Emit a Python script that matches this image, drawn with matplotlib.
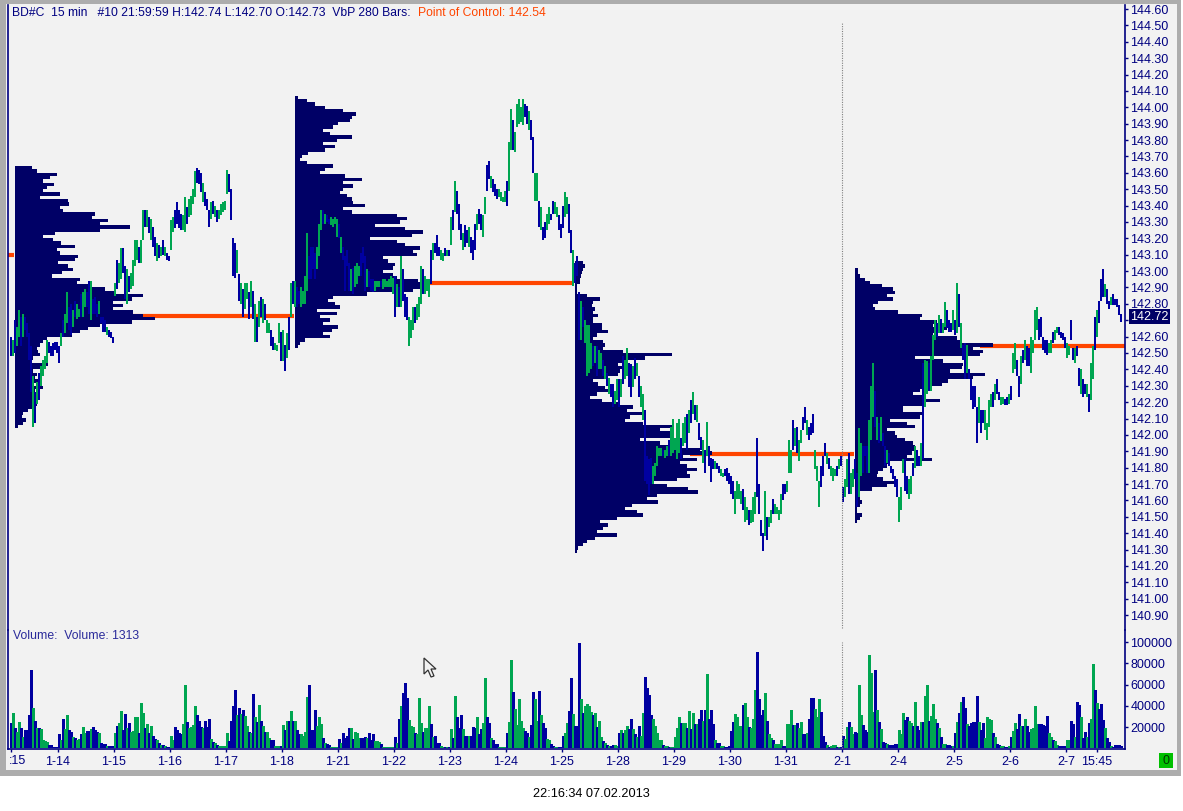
#!/usr/bin/env python3
# BD#C 15 min chart with four volume profile blocks and a volume pane
import numpy as np
import matplotlib
matplotlib.use('Agg')
import matplotlib.pyplot as plt
from matplotlib.patches import Rectangle, Polygon

W, H = 1183, 811

# sessions: 1-11 (part), 1-14 ... 2-7, one bar per 15 min
high_d0 = [142.60,142.58,142.70,142.66,142.76,142.72,142.74,142.72,142.68,142.62,142.54,142.36,142.26,142.32,142.38,142.42,142.46,142.48,142.58,142.57,142.54,142.56,142.57,142.57]
low_d0 = [142.48,142.48,142.50,142.54,142.60,142.54,142.60,142.64,142.60,142.46,142.26,142.05,142.07,142.19,142.21,142.30,142.36,142.40,142.44,142.50,142.48,142.48,142.52,142.50]
high_0114 = [142.54,142.62,142.70,142.74,142.87,142.78,142.80,142.76,142.82,142.80,142.77,142.86,142.87,142.89,142.87,142.94,142.94,142.83,142.84,142.80,142.82,142.72,142.72,142.70,142.66,142.64,142.63,142.60]
low_0114 = [142.44,142.54,142.60,142.62,142.68,142.64,142.61,142.66,142.72,142.71,142.72,142.72,142.72,142.78,142.78,142.74,142.70,142.74,142.74,142.72,142.74,142.68,142.63,142.63,142.61,142.60,142.59,142.56]
high_0115 = [142.93,143.07,143.05,143.14,143.14,143.03,143.01,142.97,142.99,143.07,143.19,143.19,143.15,143.19,143.37,143.37,143.37,143.33,143.32,143.27,143.21,143.17,143.16,143.15,143.19,143.15,143.11,143.09]
low_0115 = [142.85,142.89,142.93,142.95,142.99,142.83,142.80,142.87,142.89,142.91,143.03,143.07,143.05,143.05,143.19,143.27,143.27,143.23,143.19,143.15,143.09,143.06,143.08,143.09,143.10,143.09,143.07,143.06]
high_0116 = [143.31,143.33,143.37,143.42,143.37,143.35,143.34,143.45,143.39,143.44,143.46,143.50,143.61,143.63,143.62,143.60,143.54,143.48,143.44,143.37,143.42,143.43,143.40,143.37,143.37,143.41,143.42,143.43]
low_0116 = [143.13,143.24,143.26,143.29,143.26,143.25,143.25,143.24,143.29,143.33,143.34,143.41,143.45,143.54,143.53,143.48,143.42,143.40,143.37,143.27,143.32,143.35,143.33,143.30,143.32,143.34,143.36,143.37]
high_0117 = [143.62,143.59,143.50,143.20,143.17,143.13,142.98,142.93,142.89,142.93,142.93,142.87,142.94,142.88,142.80,142.72,142.82,142.84,142.83,142.80,142.70,142.68,142.64,142.60,142.56,142.55,142.68,142.63]
low_0117 = [143.47,143.48,143.31,142.97,142.96,142.99,142.82,142.80,142.72,142.77,142.83,142.71,142.78,142.71,142.57,142.57,142.66,142.72,142.68,142.70,142.62,142.62,142.54,142.52,142.52,142.51,142.56,142.45]
high_0118 = [142.64,142.55,142.62,142.72,142.93,142.94,142.94,142.90,142.88,142.90,142.88,142.97,143.23,143.09,143.15,143.15,143.11,143.15,143.29,143.37,143.37,143.35,143.34,143.32,143.33,143.32,143.33,143.32]
low_0118 = [142.45,142.39,142.47,142.52,142.72,142.80,142.78,142.78,142.80,142.78,142.80,142.80,142.88,142.95,142.95,143.01,142.95,143.01,143.09,143.25,143.29,143.29,143.30,143.29,143.28,143.27,143.29,143.21]
high_0121 = [143.29,143.21,143.15,143.09,143.13,143.05,143.01,143.02,143.03,143.05,143.03,143.11,143.15,143.09,143.01,143.00,142.95,142.95,142.94,142.94,142.94,142.94,142.95,142.95,142.94,142.95,142.97,142.96]
low_0121 = [143.20,143.11,143.07,142.88,143.03,142.88,142.88,142.86,142.90,142.92,142.97,142.97,143.05,142.88,142.90,142.90,142.88,142.87,142.88,142.90,142.90,142.90,142.89,142.90,142.90,142.90,142.90,142.86]
high_0122 = [142.97,142.92,142.90,143.09,143.01,142.86,142.84,142.72,142.70,142.78,142.78,142.80,142.84,143.03,143.01,142.97,142.95,142.95,143.13,143.17,143.17,143.22,143.15,143.13,143.11,143.14,143.13,143.13]
low_0122 = [142.72,142.78,142.78,142.78,142.82,142.72,142.70,142.54,142.59,142.64,142.68,142.70,142.72,142.80,142.86,142.86,142.88,142.84,142.92,143.07,143.11,143.09,143.09,143.07,143.06,143.09,143.09,143.09]
high_0123 = [143.33,143.37,143.55,143.49,143.41,143.29,143.23,143.28,143.25,143.27,143.21,143.19,143.29,143.35,143.38,143.35,143.34,143.45,143.65,143.67,143.58,143.56,143.53,143.50,143.50,143.48,143.45,143.49]
low_0123 = [143.16,143.25,143.36,143.35,143.25,143.19,143.13,143.15,143.17,143.15,143.11,143.07,143.13,143.25,143.29,143.25,143.21,143.35,143.49,143.56,143.51,143.48,143.46,143.44,143.45,143.43,143.42,143.42]
high_0124 = [143.55,143.79,143.99,143.92,143.85,144.02,144.05,144.00,144.05,144.02,144.01,143.98,143.92,143.82,143.60,143.60,143.43,143.39,143.27,143.30,143.35,143.39,143.35,143.43,143.42,143.39,143.34,143.29]
low_0124 = [143.40,143.49,143.74,143.74,143.73,143.88,143.90,143.91,143.89,143.94,143.90,143.86,143.80,143.60,143.43,143.43,143.27,143.25,143.19,143.20,143.25,143.29,143.31,143.35,143.35,143.33,143.25,143.20]
high_0125 = [143.40,143.48,143.45,143.41,143.25,143.13,143.05,143.09,142.87,142.82,142.78,142.70,142.67,142.67,142.56,142.54,142.54,142.54,142.52,142.50,142.46,142.42,142.38,142.35,142.31,142.31,142.27,142.34]
low_0125 = [143.26,143.33,143.35,143.23,143.11,142.91,142.93,142.97,142.58,142.58,142.66,142.56,142.36,142.38,142.40,142.42,142.44,142.36,142.40,142.40,142.36,142.34,142.30,142.25,142.23,142.17,142.19,142.21]
high_0128 = [142.34,142.34,142.48,142.46,142.53,142.44,142.43,142.42,142.47,142.44,142.36,142.30,142.25,142.15,141.87,141.85,141.86,141.81,141.83,141.93,141.92,141.92,141.91,141.91,141.93,141.97,142.05,142.10]
low_0128 = [142.17,142.23,142.31,142.34,142.36,142.29,142.23,142.29,142.34,142.36,142.23,142.17,142.09,141.72,141.70,141.63,141.70,141.70,141.75,141.81,141.87,141.87,141.87,141.86,141.87,141.87,141.87,141.89]
high_0129 = [141.98,142.07,142.10,141.98,142.07,142.11,142.13,142.15,142.21,142.26,142.18,142.18,142.07,141.99,141.97,141.91,142.08,141.93,141.86,141.85,141.84,141.83,141.81,141.79,141.77,141.79,141.80,141.77]
low_0129 = [141.91,141.85,141.89,141.85,141.93,141.95,141.91,142.01,142.07,142.13,142.09,142.08,141.97,141.91,141.83,141.77,141.87,141.81,141.71,141.79,141.79,141.79,141.77,141.75,141.74,141.75,141.72,141.70]
high_0130 = [141.75,141.72,141.66,141.72,141.70,141.66,141.67,141.62,141.56,141.54,141.54,141.62,141.65,141.98,141.70,141.48,141.40,141.66,141.50,141.50,141.54,141.61,141.58,141.56,141.54,141.64,141.70,141.70]
low_0130 = [141.64,141.61,141.52,141.61,141.61,141.58,141.54,141.47,141.48,141.45,141.46,141.47,141.52,141.62,141.52,141.38,141.29,141.38,141.36,141.44,141.46,141.52,141.52,141.52,141.48,141.52,141.60,141.64]
high_0131 = [141.72,141.97,141.91,142.09,142.04,142.05,141.97,142.03,142.11,142.17,142.09,142.05,142.07,142.13,141.91,141.81,141.72,141.81,141.87,141.95,141.89,141.86,141.81,141.80,141.79,141.81,141.85,141.87]
low_0131 = [141.65,141.77,141.77,141.91,141.93,141.89,141.84,141.95,142.03,142.07,142.00,141.97,142.00,142.01,141.79,141.72,141.56,141.68,141.75,141.87,141.82,141.79,141.75,141.72,141.75,141.75,141.79,141.81]
high_0201 = [141.68,141.73,141.85,141.89,141.77,141.79,141.85,141.77,142.04,141.95,141.93,141.93,141.93,142.09,142.30,142.44,142.27,142.11,142.07,142.11,142.01,141.93,141.91,141.89,141.81,141.79,141.75,141.73]
low_0201 = [141.59,141.62,141.68,141.64,141.64,141.68,141.73,141.56,141.62,141.75,141.77,141.87,141.77,141.77,141.97,142.11,142.05,141.97,141.95,141.96,141.93,141.81,141.83,141.81,141.77,141.73,141.68,141.62]
high_0204 = [141.62,141.68,141.85,141.85,141.75,141.73,141.75,141.83,141.93,141.91,141.87,141.95,142.44,142.46,142.45,142.44,142.48,142.61,142.70,142.68,142.73,142.71,142.68,142.81,142.76,142.70,142.68,142.76]
low_0204 = [141.47,141.54,141.77,141.66,141.64,141.61,141.64,141.75,141.80,141.81,141.81,141.81,141.85,142.17,142.25,142.27,142.27,142.46,142.58,142.60,142.62,142.62,142.62,142.66,142.65,142.63,142.63,142.64]
high_0205 = [142.70,142.93,142.86,142.68,142.55,142.56,142.55,142.40,142.34,142.30,142.30,142.17,142.23,142.15,142.15,142.15,142.07,142.21,142.25,142.26,142.31,142.34,142.26,142.23,142.23,142.22,142.23,142.25]
low_0205 = [142.61,142.62,142.66,142.53,142.46,142.34,142.38,142.34,142.21,142.16,142.17,141.95,142.07,142.01,142.07,142.03,141.97,142.05,142.17,142.17,142.21,142.25,142.21,142.18,142.19,142.18,142.18,142.19]
high_0206 = [142.30,142.50,142.56,142.46,142.36,142.48,142.52,142.58,142.54,142.53,142.60,142.58,142.76,142.78,142.71,142.72,142.60,142.58,142.58,142.56,142.58,142.63,142.64,142.66,142.66,142.63,142.62,142.60]
low_0206 = [142.21,142.38,142.40,142.36,142.23,142.31,142.44,142.46,142.42,142.42,142.38,142.50,142.58,142.64,142.58,142.60,142.52,142.50,142.49,142.50,142.50,142.56,142.58,142.62,142.61,142.59,142.58,142.53]
high_0207 = [142.56,142.54,142.70,142.53,142.53,142.54,142.41,142.40,142.34,142.31,142.31,142.25,142.44,142.54,142.72,142.76,142.82,142.95,143.01,142.92,142.89,142.82,142.84,142.86,142.83,142.83,142.79,142.74]
low_0207 = [142.47,142.49,142.58,142.46,142.44,142.48,142.30,142.25,142.23,142.25,142.23,142.14,142.21,142.34,142.52,142.60,142.68,142.82,142.84,142.84,142.80,142.77,142.79,142.79,142.79,142.78,142.73,142.69]

# volume in thousands, same order. g = up bar, b = down bar
vol_d0 = [24,33,19,15,25,19,11,17,17,31,74,38,26,19,19,18,8,7,6,3,3,1,1,1]
vol_0114 = [13,8,28,18,31,17,15,11,10,8,9,13,20,14,16,16,18,20,17,15,14,5,4,4,2,2,2,2]
vol_0115 = [14,21,24,35,17,32,19,24,15,16,29,29,14,43,33,19,23,14,21,12,9,8,5,3,3,2,1,1]
vol_0116 = [12,8,20,17,14,13,23,60,25,19,20,22,40,31,26,20,19,26,20,28,9,6,5,3,2,2,2,2]
vol_0117 = [14,7,26,40,55,31,38,32,36,30,21,15,14,51,29,25,41,26,21,15,15,10,8,8,2,2,2,2]
vol_0118 = [22,17,26,26,35,26,26,17,13,13,12,15,48,60,17,17,36,21,29,23,10,5,4,3,1,1,1,1]
vol_0121 = [9,5,14,10,12,19,19,9,15,14,10,10,10,11,10,14,8,13,7,7,6,4,1,1,1,1,1,1]
vol_0122 = [11,5,28,40,52,61,47,27,21,20,14,13,47,24,15,19,19,40,23,11,12,5,5,2,1,1,1,1]
vol_0123 = [18,10,49,29,19,31,18,12,12,12,12,20,19,29,13,18,24,66,29,24,10,8,4,4,1,1,1,1]
vol_0124 = [14,25,83,53,37,22,46,26,19,16,14,11,22,53,46,26,54,31,24,19,9,8,4,2,1,1,1,1]
vol_0125 = [12,14,24,35,66,32,21,21,99,46,33,40,42,40,34,31,33,20,26,11,7,5,3,2,2,3,3,2]
vol_0128 = [14,17,14,17,21,18,28,18,13,11,21,12,33,67,57,50,31,28,21,14,8,8,3,2,2,1,1,1]
vol_0129 = [11,19,29,24,24,24,19,35,18,33,23,23,28,36,26,36,70,28,36,23,8,5,5,2,2,1,1,2]
vol_0130 = [16,25,32,29,21,21,41,43,29,20,19,28,55,91,46,31,36,52,26,13,10,8,4,4,4,8,2,2]
vol_0131 = [23,23,36,22,22,24,19,25,13,13,14,28,47,47,37,29,46,34,12,6,3,1,2,3,3,1,1,1]
vol_0201 = [12,9,20,25,20,13,15,14,60,31,22,17,15,88,71,34,74,36,25,18,6,5,4,3,3,3,4,4]
vol_0204 = [17,13,33,27,29,26,24,21,44,21,17,25,25,49,60,26,30,42,28,24,19,11,4,4,3,3,2,2]
vol_0205 = [14,25,33,44,48,38,23,21,24,25,25,49,25,17,24,10,29,28,27,14,11,4,3,2,2,1,1,2]
vol_0206 = [11,16,24,18,32,21,21,28,21,15,18,19,40,23,23,23,22,21,30,14,11,8,7,3,2,2,2,2]
vol_0207 = [8,8,26,23,11,44,41,29,10,15,11,24,28,79,55,43,37,42,27,19,10,6,2,1,3,3,3,2]

side = ('bgbggbgbbbbgbgbggggbbbbb'
        'bgbggbbgbggbggbbgbbbgbbbgbbb'
        'gbggbbgbggggbggbgbgbbgbgbgbb'
        'ggbbbbggbggggbbbgbbbgbgbgggg'
        'gbbbbgbgbggbgbgbgbgbggbbgggb'
        'gbgbgbgbbggggbbbbgggbgbbgggg'
        'bgbbbbgbgggbbbgbbbgggbgggggg'
        'bgbgbbbgggbgggbgggbgbbbggbgb'
        'gbgbbbgbbgbbbgbbggbbgbbbgggg'
        'bggbgggggbbgbbggbgbbggbbggbb'
        'bggbbgbbbgbggggbgbggbgbgbbgg'
        'bgbggbbgbgbggbbbbgggggbggbgg'
        'gggbggbgbgbgbbgbgbbbgbbggbbb'
        'bbggggbggbgggbbbbgbggbggggbb'
        'gggbgbggbbgbbbgggbbbgbgggbgb'
        'bggbggbbggbbbgggbgbgbbgbbbbb'
        'gggbbggbgbbgbggbgggbgbggbbbg'
        'bgbgbbgbbbbbgbbggggbgbbggbbg'
        'bggbbgbgbbggggbbbbbggbggbbbb'
        'ggbbgbbgbbgbggbgbbbgbbgbbbbb')

# volume at price, each row 0.02 wide, from the top price of the block down
prof_starts = [2.5, 142.5, 282.5, 422.5]
prof_tops = [143.63, 144.06, 143.05, 143.01]
prof1 = [17,22,42,35,28,39,32,28,45,25,53,54,45,48,80,77,93,85,115,85,
         40,28,38,46,60,42,45,63,60,43,53,58,47,37,65,62,75,90,100,128,
         117,98,108,98,118,128,140,117,85,73,65,57,32,28,25,22,23,25,18,15,
         33,25,18,22,20,23,18,28,20,20,20,23,22,18,13,8,7,11,8,3]
prof2 = [3,12,20,30,48,61,57,55,43,38,28,35,57,42,28,40,30,13,7,5,
         12,38,30,25,50,67,48,58,48,45,52,57,58,70,48,57,102,112,105,80,
         110,128,117,75,102,110,125,118,122,88,93,100,98,88,98,102,123,128,127,118,
         72,38,33,40,45,22,42,25,35,28,43,37,28,35,10,5,3]
prof3 = [8,10,8,7,6,5,5,2,2,2,12,25,18,17,20,18,23,18,18,27,
         27,33,22,18,28,30,28,48,97,70,48,43,47,45,43,32,18,23,30,33,
         22,15,27,45,58,52,68,55,50,68,98,85,95,98,65,85,100,125,137,108,
         122,105,112,122,112,115,102,78,92,113,123,82,72,83,57,50,62,68,42,25,
         33,28,22,42,20,12,8,3,2]
prof4 = [3,3,5,10,15,27,38,40,32,38,23,18,20,43,67,65,82,78,92,87,
         78,102,107,138,118,128,125,60,88,108,107,95,130,118,93,87,70,65,58,68,
         85,68,48,48,67,65,35,52,60,32,40,42,50,58,60,60,57,52,77,35,
         32,28,23,22,28,40,32,17,5,3,5,7,5,2,2,7,5,2]

# point of control levels and the bars each one runs across
poc_levels = [143.10, 142.725, 142.93, 141.885, 142.54]
poc_from = [-1, 61, 208, 340, 485]
poc_to = [2, 142, 282, 422, 557.5]

day_labels = ['1-14','1-15','1-16','1-17','1-18','1-21','1-22','1-23','1-24','1-25',
              '1-28','1-29','1-30','1-31','2-1','2-4','2-5','2-6','2-7']
price_ticks = np.round(np.arange(140.9, 144.61, 0.1), 2)
vol_ticks = [20000, 40000, 60000, 80000, 100000]
last_price = 142.72

highs = (high_d0 + high_0114 + high_0115 + high_0116 + high_0117 + high_0118 + high_0121
         + high_0122 + high_0123 + high_0124 + high_0125 + high_0128 + high_0129 + high_0130
         + high_0131 + high_0201 + high_0204 + high_0205 + high_0206 + high_0207)
lows = (low_d0 + low_0114 + low_0115 + low_0116 + low_0117 + low_0118 + low_0121
        + low_0122 + low_0123 + low_0124 + low_0125 + low_0128 + low_0129 + low_0130
        + low_0131 + low_0201 + low_0204 + low_0205 + low_0206 + low_0207)
volumes = (vol_d0 + vol_0114 + vol_0115 + vol_0116 + vol_0117 + vol_0118 + vol_0121
           + vol_0122 + vol_0123 + vol_0124 + vol_0125 + vol_0128 + vol_0129 + vol_0130
           + vol_0131 + vol_0201 + vol_0204 + vol_0205 + vol_0206 + vol_0207)
if not (len(highs) == len(lows) == len(volumes) == len(side)):
    raise ValueError(f'{len(highs)} {len(lows)} {len(volumes)} {len(side)}')

plt.rcParams['font.family'] = ['Liberation Sans', 'DejaVu Sans']
NAVY = '#000080'
BLUE = '#0000A0'
GREEN = '#00A651'
PROF = '#000066'
ORANGE = '#FF4500'
PANEL = '#F2F2F2'
FS = 9.0

fig = plt.figure(figsize=(W / 100, H / 100), dpi=100, facecolor='white')


def box(x0, y0, x1, y1):
    # pixel box, y measured from the top
    return [x0 / W, 1 - y1 / H, (x1 - x0) / W, (y1 - y0) / H]


def fx(x):
    return x / W


def fy(y):
    return 1 - y / H


# window frame, behind the axes
fig.patches.append(Rectangle((0, fy(776)), fx(1181), fy(0) - fy(776), transform=fig.transFigure,
                             fc='#ADADAD', ec='none', zorder=-3))
fig.patches.append(Rectangle((fx(6), fy(770)), fx(1171), fy(4) - fy(770), transform=fig.transFigure,
                             fc=PANEL, ec='none', zorder=-2))

ax = fig.add_axes(box(8, 5, 1125, 630), facecolor='none')
axv = fig.add_axes(box(8, 630, 1125, 749), facecolor='none')
for a in (ax, axv):
    a.set_xlim(-1, 557.5)
ax.set_ylim(144.6 - 621 / 163.8, 144.6 + 4 / 163.8)
axv.set_ylim(-700, 111300)

x = np.arange(len(highs))
up = np.array([c == 'g' for c in side])
bar_colors = [GREEN if u else BLUE for u in up]

# POC lines sit under the blocks, price bars on top of both
ax.hlines(poc_levels, poc_from, poc_to, colors=ORANGE, linewidth=3.0, zorder=1)
for start, top, prof in zip(prof_starts, prof_tops, (prof1, prof2, prof3, prof4)):
    rows = top - 0.02 * np.arange(len(prof))
    # rows a touch taller than the step so no light seam shows between them
    ax.barh(rows, np.array(prof) * 0.5, left=start, height=0.0215, color=PROF, linewidth=0,
            antialiased=False, zorder=2)
ax.vlines(x + 0.5, lows, highs, colors=bar_colors, linewidth=1.44, antialiased=False, zorder=3)

axv.bar(x, np.array(volumes) * 1000, width=1.3, align='edge', color=bar_colors, linewidth=0)

# dotted divider at 2-1
ax.vlines(416, 140.82, 144.52, colors='#808080', linewidth=0.8, linestyles=(0, (1, 1.2)), zorder=4)
axv.vlines(416, 0, 100000, colors='#808080', linewidth=0.8, linestyles=(0, (1, 1.2)), zorder=4)

# axes
for a in (ax, axv):
    for s in a.spines.values():
        s.set_visible(False)
    for name in ('left', 'right'):
        a.spines[name].set_visible(True)
        a.spines[name].set_color(NAVY)
        a.spines[name].set_linewidth(1.2)
    a.yaxis.tick_right()
    a.tick_params(axis='y', length=2.5, width=1, color=NAVY, labelcolor=NAVY, labelsize=FS, pad=1.5)
axv.spines['bottom'].set_visible(True)
axv.spines['bottom'].set_color(NAVY)
axv.spines['bottom'].set_linewidth(1.2)

ax.set_xticks([])
ax.set_yticks(price_ticks)
# the 142.70 label is hidden behind the last price flag
ax.set_yticklabels(['' if p == 142.7 else f'{p:.2f}' for p in price_ticks])
axv.set_yticks(vol_ticks)
axv.set_yticklabels([str(v) for v in vol_ticks])

tick_pos = [0.5] + [24 + 28 * k for k in range(len(day_labels))] + [543.5]
tick_lab = [''] + day_labels + ['15:45']
axv.set_xticks(tick_pos)
axv.set_xticklabels(tick_lab)
axv.tick_params(axis='x', length=2.5, width=1, color=NAVY, labelcolor=NAVY, labelsize=FS, pad=2.5)

# last price flag on the price scale
ax.text(1.0047, last_price, f'{last_price:.2f}', transform=ax.get_yaxis_transform(), color='white',
        fontsize=FS, va='center', ha='left', zorder=6,
        bbox=dict(boxstyle='square,pad=0.12', fc=PROF, ec=PROF, lw=0))

# header and footer text
fig.text(fx(12), fy(13), 'BD#C  15 min   #10 21:59:59 H:142.74 L:142.70 O:142.73  VbP 280 Bars:',
         color=NAVY, fontsize=8.75, va='center', ha='left')
fig.text(fx(418), fy(13), 'Point of Control: 142.54', color=ORANGE, fontsize=8.75, va='center', ha='left')
fig.text(fx(13), fy(636), 'Volume:  Volume: 1313', color='#2A2A9A', fontsize=8.85, va='center', ha='left')
fig.text(fx(591), fy(794), '22:16:34 07.02.2013', color='black', fontsize=9.15, va='center', ha='center')
fig.text(fx(9), fy(761), ':15', color=NAVY, fontsize=FS, va='center', ha='left')

# status box and the mouse pointer from the screenshot
fig.patches.append(Rectangle((fx(1159), fy(768)), fx(14), fy(753) - fy(768), transform=fig.transFigure,
                             fc='#00C000', ec='none', zorder=1))
fig.text(fx(1166), fy(760.5), '0', color='#003300', fontsize=FS, va='center', ha='center')
cursor = [(424, 658), (424, 674), (428, 670), (431, 677), (434, 676), (431, 669), (436, 669)]
fig.patches.append(Polygon([(fx(a), fy(b)) for a, b in cursor], closed=True, transform=fig.transFigure,
                           fc=PANEL, ec='#333333', lw=0.9, zorder=8))

fig.savefig('out.png', dpi=100)
